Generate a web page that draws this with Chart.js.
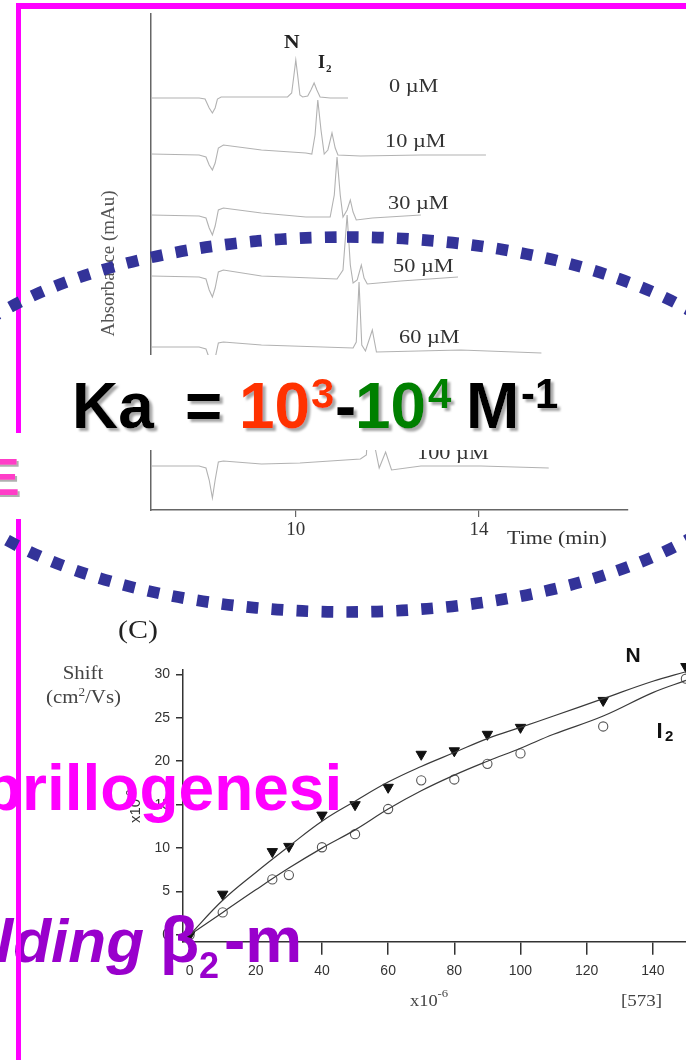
<!DOCTYPE html>
<html>
<head>
<meta charset="utf-8">
<script src="https://cdn.jsdelivr.net/npm/chart.js@4.4.1/dist/chart.umd.min.js"></script>
<style>
  html, body { margin: 0; padding: 0; background: #fff; width: 686px; height: 1060px; overflow: hidden; position: relative; }
  canvas { position: absolute; }
  #ce { left: 0; top: 0; }
  #shift { left: 0; top: 600px; }
  #over { position: absolute; left: 0; top: 0; }
</style>
</head>
<body>
<canvas id="ce" width="686" height="560" style="width:686px;height:560px"></canvas>
<canvas id="shift" width="740" height="420" style="width:740px;height:420px"></canvas>

<svg id="over" width="686" height="1060" xmlns="http://www.w3.org/2000/svg">
  <defs>
    <filter id="sh" x="-10%" y="-10%" width="130%" height="140%">
      <feDropShadow dx="3" dy="3" stdDeviation="0.8" flood-color="#a8a8a8" flood-opacity="1"/>
    </filter>
    <filter id="sh2" x="-10%" y="-10%" width="130%" height="140%">
      <feDropShadow dx="2" dy="2" stdDeviation="0.6" flood-color="#b0b0b0" flood-opacity="1"/>
    </filter>
  </defs>

  <!-- electropherogram annotations -->
  <g id="traceLabels" font-family="Liberation Serif" font-size="18" fill="#333"></g>
  <text transform="translate(284,48) scale(1.2,1)" font-family="Liberation Serif" font-weight="bold" font-size="18" fill="#222">N</text>
  <text font-family="Liberation Serif" font-weight="bold" fill="#222">
    <tspan x="318" y="68" font-size="18">I</tspan><tspan x="326" y="72" font-size="11">2</tspan>
  </text>
  <text transform="translate(114,263.5) rotate(-90)" text-anchor="middle" font-family="Liberation Serif" font-size="19" fill="#555">Absorbance (mAu)</text>
  <text transform="translate(507,544) scale(1.22,1)" font-family="Liberation Serif" font-size="18" fill="#333">Time (min)</text>

  <!-- mobility shift annotations -->
  <text transform="translate(118,638) scale(1.2,1)" font-family="Liberation Serif" font-size="25" fill="#222">(C)</text>
  <text transform="translate(83,679) scale(1.1,1)" text-anchor="middle" font-family="Liberation Serif" font-size="19" fill="#444">Shift</text>
  <text transform="translate(83.5,703) scale(1.1,1)" text-anchor="middle" font-family="Liberation Serif" font-size="19" fill="#444">(cm<tspan dy="-7" font-size="12">2</tspan><tspan dy="7">/Vs)</tspan></text>
  <text transform="translate(140,823) rotate(-90)" font-family="Liberation Sans" font-size="15" fill="#333">x10<tspan dy="-6" font-size="10">-3</tspan></text>
  <text transform="translate(410,1006) scale(1.15,1)" font-family="Liberation Serif" font-size="16" fill="#444">x10<tspan dy="-9" font-size="11">-6</tspan></text>
  <text transform="translate(621,1006) scale(1.12,1)" font-family="Liberation Serif" font-size="17" fill="#444">[573]</text>
  <text x="625.5" y="662" font-family="Liberation Sans" font-weight="bold" font-size="21" fill="#111">N</text>
  <text font-family="Liberation Sans" font-weight="bold" fill="#111">
    <tspan x="656.5" y="738" font-size="22">I</tspan><tspan x="665" y="741" font-size="15">2</tspan>
  </text>

  <!-- association constant panel -->
  <rect x="50" y="355" width="612" height="95" fill="#fff"/>
  <text font-family="Liberation Sans" font-weight="bold" font-size="64" fill="#000" filter="url(#sh)">
    <tspan x="72" y="428">Ka</tspan>
    <tspan x="185" y="428">=</tspan>
    <tspan x="239" y="428" fill="#ff3300">10</tspan>
    <tspan x="311" y="408" font-size="42" fill="#ff3300">3</tspan>
    <tspan x="335" y="428">-</tspan>
    <tspan x="355" y="428" fill="#008000">10</tspan>
    <tspan x="428" y="408" font-size="42" fill="#008000">4</tspan>
    <tspan x="466" y="428">M</tspan>
    <tspan x="521" y="408" font-size="42">-1</tspan>
  </text>

  <!-- slide text -->
  <text x="-15" y="495" font-family="Liberation Sans" font-weight="bold" font-size="52" fill="#ff3cc8" filter="url(#sh2)">E</text>
  <text x="-17" y="810" font-family="Liberation Sans" font-weight="bold" font-size="64" fill="#ff00ff">brillogenesi</text>
  <text x="-4" y="962" font-family="Liberation Sans" font-weight="bold" font-style="italic" font-size="62" fill="#9900cc">lding</text>
  <text font-family="Liberation Sans" font-weight="bold" font-size="64" fill="#9900cc">
    <tspan x="160" y="962">β</tspan><tspan x="199" y="978" font-size="36">2</tspan><tspan x="224" y="962">-m</tspan>
  </text>

  <!-- slide frame -->
  <rect x="16" y="3" width="670" height="6" fill="#ff00ff"/>
  <rect x="16" y="3" width="5" height="430" fill="#ff00ff"/>
  <rect x="16" y="519" width="5" height="541" fill="#ff00ff"/>

  <!-- dotted highlight ellipse -->
  <path d="M 347 237 A 432 187.5 0 0 1 347 612 A 432 187.5 0 0 1 347 237" fill="none"
        stroke="#333399" stroke-width="11.7" stroke-dasharray="11.7 13.3"/>
</svg>

<script>
// ---- Electropherograms: [time (min), absorbance (mAU, stacked)] ----
const concLabels = ['0 µM', '10 µM', '30 µM', '50 µM', '60 µM', '100 µM'];
const trace0uM = [[6.84,82.4],[7.89,82.4],[8.02,82.2],[8.11,80.4],[8.18,79.4],[8.24,80.4],[8.29,82.2],[8.37,82.6],[9.21,82.6],[9.82,82.6],[9.91,83.4],[9.96,87.0],[10.00,90.0],[10.04,87.0],[10.09,83.0],[10.15,82.6],[10.26,82.8],[10.33,84.0],[10.40,85.4],[10.46,84.0],[10.53,82.6],[10.75,82.4],[11.14,82.4]];
const trace10uM = [[6.84,71.2],[7.89,71.0],[8.04,70.6],[8.11,69.0],[8.18,68.0],[8.24,69.4],[8.31,72.4],[8.42,73.0],[9.25,72.0],[10.22,71.4],[10.35,71.2],[10.42,75.0],[10.48,82.0],[10.55,76.0],[10.62,71.2],[10.70,72.0],[10.79,75.4],[10.86,72.4],[10.92,71.0],[11.41,70.8],[12.73,71.0],[14.15,71.0]];
const trace30uM = [[6.84,59.0],[7.89,58.8],[8.04,58.4],[8.11,56.4],[8.18,55.0],[8.24,56.8],[8.31,60.0],[8.42,60.4],[9.25,59.4],[10.22,58.6],[10.75,58.6],[10.84,63.0],[10.90,70.6],[10.97,63.0],[11.03,58.6],[11.12,60.0],[11.19,62.0],[11.25,59.6],[11.32,58.0],[11.67,58.4],[12.73,59.0]];
const trace50uM = [[6.84,46.8],[7.89,46.6],[8.04,46.2],[8.11,44.0],[8.18,42.6],[8.24,44.4],[8.31,47.6],[8.42,48.0],[9.25,46.8],[10.90,46.2],[11.03,48.0],[11.12,59.0],[11.19,49.0],[11.25,45.4],[11.34,46.0],[11.43,49.0],[11.49,46.4],[11.56,45.2],[12.29,45.8],[13.54,46.6]];
const trace60uM = [[6.84,32.6],[7.89,32.6],[8.04,32.2],[8.11,30.4],[8.18,29.0],[8.24,30.4],[8.31,33.4],[8.42,33.6],[9.25,33.0],[11.25,32.4],[11.32,33.6],[11.38,45.6],[11.44,33.0],[11.52,31.8],[11.67,36.0],[11.76,31.6],[13.60,32.0],[15.36,31.4]];
const trace100uM = [[6.84,8.8],[7.89,8.8],[8.04,8.4],[8.11,6.0],[8.18,2.4],[8.24,6.0],[8.31,9.6],[8.42,9.8],[9.25,9.2],[10.09,9.4],[11.41,10.2],[11.54,11.0],[11.63,26.0],[11.74,12.0],[11.82,8.4],[11.96,11.6],[12.09,8.0],[12.73,8.8],[14.04,8.8],[15.52,8.4]];
const timeTicks = [10, 14];

// ---- Mobility shift (x10^-3 cm2/Vs) against ligand concentration (x10^-6 M) ----
const concX   = [0, 10, 25, 30, 40, 50, 60, 70, 80, 90, 100, 125, 150];
const shiftN  = [0, 4.7, 9.6, 10.2, 13.8, 15.0, 17.0, 20.8, 21.2, 23.1, 23.9, 27.0, 30.9];
const shiftI2 = [0, 2.6, 6.4, 6.9, 10.1, 11.6, 14.5, 17.8, 17.9, 19.7, 20.9, 24.0, 29.5];
const fitX    = [0, 10, 20, 30, 40, 50, 60, 70, 80, 90, 100, 110, 125, 140, 150];
const fitN    = [0, 4.0, 7.2, 10.2, 13.1, 15.4, 17.6, 19.4, 21.0, 22.6, 23.9, 25.2, 27.2, 29.2, 30.3];
const fitI2   = [0, 2.6, 5.2, 7.7, 10.0, 12.1, 14.5, 16.6, 18.4, 20.0, 21.5, 23.1, 25.2, 27.9, 29.3];
const concTicks  = [0, 20, 40, 60, 80, 100, 120, 140];
const shiftTicks = [0, 5, 10, 15, 20, 25, 30];

// label placement next to each trace (text position in page pixels)
const traceLabelPos = [[389, 92], [385, 146.5], [388, 208.5], [393, 271.5], [399, 343], [417, 459]];

const svgNS = 'http://www.w3.org/2000/svg';
const labelGroup = document.getElementById('traceLabels');
concLabels.forEach((txt, i) => {
  const t = document.createElementNS(svgNS, 'text');
  t.setAttribute('transform', `translate(${traceLabelPos[i][0]},${traceLabelPos[i][1]}) scale(1.24,1)`);
  t.textContent = txt;
  labelGroup.appendChild(t);
});

const toXY = arr => arr.map(([x, y]) => ({ x, y }));
const zipXY = (xs, ys) => xs.map((x, i) => ({ x, y: ys[i] }));
const fixedTicks = list => scale => { scale.ticks = list.map(v => ({ value: v })); };

const traces = [trace0uM, trace10uM, trace30uM, trace50uM, trace60uM, trace100uM];

new Chart(document.getElementById('ce'), {
  type: 'line',
  data: {
    datasets: traces.map((tr, i) => ({
      label: concLabels[i],
      data: toXY(tr),
      borderColor: '#b2b2b2',
      borderWidth: 1.1,
      pointRadius: 0,
      tension: 0,
      fill: false
    }))
  },
  options: {
    responsive: false,
    animation: false,
    events: [],
    plugins: { legend: { display: false }, tooltip: { enabled: false } },
    layout: { padding: { left: 151, top: 14, right: 58, bottom: 0 } },
    scales: {
      x: {
        type: 'linear', min: 6.84, max: 17.25,
        afterBuildTicks: fixedTicks(timeTicks),
        afterFit: s => { s.height = 50; },
        ticks: { font: { family: 'Liberation Serif', size: 19 }, color: '#333', padding: 2, maxRotation: 0, autoSkip: false },
        grid: { display: true, drawOnChartArea: false, drawTicks: true, tickLength: 7, color: '#666', lineWidth: 1.2 },
        border: { display: true, color: '#666', width: 1.5 }
      },
      y: {
        type: 'linear', min: 0, max: 99.2,
        afterFit: s => { s.width = 0; },
        ticks: { display: false },
        grid: { display: false, drawTicks: false },
        border: { display: true, color: '#666', width: 1.5 }
      }
    }
  }
});

new Chart(document.getElementById('shift'), {
  type: 'scatter',
  data: {
    datasets: [
      { label: 'N fit', data: zipXY(fitX, fitN), showLine: true, borderColor: '#3a3a3a', borderWidth: 1.2, pointRadius: 0, tension: 0.4, clip: false },
      { label: 'I2 fit', data: zipXY(fitX, fitI2), showLine: true, borderColor: '#3a3a3a', borderWidth: 1.2, pointRadius: 0, tension: 0.4, clip: false },
      { label: 'N', data: zipXY(concX, shiftN), pointStyle: 'triangle', rotation: 180, pointRadius: 6, backgroundColor: '#111', borderColor: '#111', borderWidth: 1, clip: false },
      { label: 'I2', data: zipXY(concX, shiftI2), pointStyle: 'circle', pointRadius: 4.6, backgroundColor: 'rgba(255,255,255,0)', borderColor: '#555', borderWidth: 1.1, clip: false }
    ]
  },
  options: {
    responsive: false,
    animation: false,
    events: [],
    plugins: { legend: { display: false }, tooltip: { enabled: false } },
    layout: { padding: { left: 123, top: 70, right: 21, bottom: 0 } },
    scales: {
      x: {
        type: 'linear', min: -2, max: 160,
        afterBuildTicks: fixedTicks(concTicks),
        afterFit: s => { s.height = 78.3; },
        ticks: { font: { family: 'Liberation Sans', size: 14 }, color: '#333', padding: 8, maxRotation: 0, autoSkip: false },
        grid: { display: true, drawOnChartArea: false, drawTicks: true, tickLength: 13, color: '#333', lineWidth: 1.5 },
        border: { display: true, color: '#333', width: 1.5 }
      },
      y: {
        type: 'linear', min: -0.77, max: 30.5,
        afterBuildTicks: fixedTicks(shiftTicks),
        afterFit: s => { s.width = 60; },
        ticks: { font: { family: 'Liberation Sans', size: 14 }, color: '#333', padding: 6 },
        grid: { display: true, drawOnChartArea: false, drawTicks: true, tickLength: 7, color: '#333', lineWidth: 1.5 },
        border: { display: true, color: '#333', width: 1.5 }
      }
    }
  }
});
</script>
</body>
</html>
